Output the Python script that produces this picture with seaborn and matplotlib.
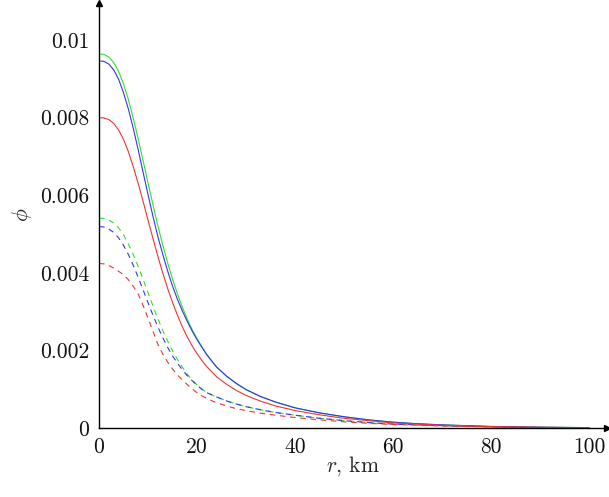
import numpy as np
import pandas as pd
import matplotlib
matplotlib.use("Agg")
import matplotlib.pyplot as plt
import seaborn as sns

# radius, km
r = [0, 1, 2, 3, 4, 5, 6, 7, 8, 9, 10, 11, 12, 13, 14, 15, 16, 17, 18, 19, 20, 21, 22,
     24, 26, 28, 30, 33, 36, 40, 45, 50, 55, 60, 65, 70, 80, 90, 100]

green_solid = [0.00964, 0.00963, 0.00956, 0.00942, 0.00919, 0.00887, 0.00846, 0.00798, 0.00745, 0.00689, 0.00632,
               0.00576, 0.00522, 0.00472, 0.00426, 0.00384, 0.00346, 0.00312, 0.00281, 0.00254, 0.00230, 0.00209, 0.00189,
               0.00157, 0.00134, 0.00115, 0.00099, 0.00081, 0.00067, 0.00052, 0.00039, 0.00029, 0.00021, 0.00015,
               0.00011, 0.00008, 0.00004, 0.00002, 0.00001]
blue_solid = [0.00946, 0.00945, 0.00938, 0.00923, 0.00899, 0.00864, 0.00822, 0.00772, 0.00717, 0.00659, 0.00602,
              0.00546, 0.00494, 0.00448, 0.00405, 0.00366, 0.00332, 0.00302, 0.00275, 0.00250, 0.00228, 0.00208, 0.00189,
              0.00157, 0.00134, 0.00115, 0.00099, 0.00081, 0.00067, 0.00052, 0.00039, 0.00029, 0.00021, 0.00015,
              0.00011, 0.00008, 0.00004, 0.00002, 0.00001]
red_solid = [0.00800, 0.00799, 0.00795, 0.00785, 0.00768, 0.00744, 0.00712, 0.00673, 0.00630, 0.00584, 0.00536,
             0.00489, 0.00443, 0.00400, 0.00360, 0.00324, 0.00291, 0.00261, 0.00235, 0.00212, 0.00192, 0.00174, 0.00158,
             0.00132, 0.00113, 0.00097, 0.00084, 0.00069, 0.00057, 0.00045, 0.00034, 0.00025, 0.00019, 0.00013,
             0.00010, 0.00007, 0.000035, 0.000017, 0.000008]
green_dashed = [0.00541, 0.00540, 0.00536, 0.00528, 0.00516, 0.00498, 0.00474, 0.00447, 0.00416, 0.00383, 0.00349,
                0.00315, 0.00282, 0.00252, 0.00224, 0.00199, 0.00177, 0.00157, 0.00139, 0.00124, 0.00111, 0.00100, 0.00091,
                0.00080, 0.00070, 0.00062, 0.00055, 0.00047, 0.00040, 0.00033, 0.00025, 0.00019, 0.00014, 0.00010,
                0.00008, 0.00006, 0.00003, 0.000015, 0.000008]
blue_dashed = [0.00519, 0.00518, 0.00513, 0.00504, 0.00490, 0.00471, 0.00447, 0.00419, 0.00388, 0.00356, 0.00323,
               0.00291, 0.00261, 0.00233, 0.00208, 0.00186, 0.00167, 0.00150, 0.00135, 0.00122, 0.00110, 0.00100, 0.00091,
               0.00080, 0.00070, 0.00062, 0.00055, 0.00047, 0.00040, 0.00033, 0.00025, 0.00019, 0.00014, 0.00010,
               0.00008, 0.00006, 0.00003, 0.000015, 0.000008]
red_dashed = [0.00424, 0.00423, 0.00419, 0.00412, 0.00404, 0.00395, 0.00382, 0.00365, 0.00345, 0.00316, 0.00283,
              0.00250, 0.00216, 0.00191, 0.00170, 0.00152, 0.00137, 0.00124, 0.00112, 0.00101, 0.00091, 0.00083, 0.00076,
              0.00065, 0.00057, 0.00050, 0.00045, 0.00038, 0.00033, 0.00027, 0.00021, 0.00016, 0.00012, 0.00009,
              0.00007, 0.00005, 0.000025, 0.000012, 0.000006]

xticks = [0, 20, 40, 60, 80, 100]
xtick_labels = ["0", "20", "40", "60", "80", "100"]
yticks = [0, 0.002, 0.004, 0.006, 0.008, 0.01]
ytick_labels = ["0", "0.002", "0.004", "0.006", "0.008", "0.01"]

series = [
    ("green", "solid", green_solid),
    ("blue", "solid", blue_solid),
    ("red", "solid", red_solid),
    ("green", "dashed", green_dashed),
    ("blue", "dashed", blue_dashed),
    ("red", "dashed", red_dashed),
]
rows = []
for col, sty, vals in series:
    for x, y in zip(r, vals):
        rows.append({"r": x, "phi": y, "color": col, "kind": sty, "id": col + sty})
df = pd.DataFrame(rows)

sns.set_style("white")
plt.rcParams["font.family"] = ["cmr10", "DejaVu Serif"]
plt.rcParams["mathtext.fontset"] = "cm"
plt.rcParams["axes.unicode_minus"] = False

fig = plt.figure(figsize=(6.09, 4.97), dpi=100)
ax = fig.add_axes([99 / 609, 69 / 497, (607 - 99) / 609, (428 - 3) / 497])

palette = {"green": "#2ee02e", "blue": "#3434f0", "red": "#f03434"}
sns.lineplot(data=df, x="r", y="phi", hue="color", style="kind", units="id", estimator=None,
             palette=palette, dashes={"solid": "", "dashed": (5.0, 4.2)},
             linewidth=0.8, legend=False, ax=ax, sort=False)

xmax = (607 - 99) / 4.9
ymax = (428 - 3) / 38800.0
ax.set_xlim(0, xmax)
ax.set_ylim(0, ymax)

for s in ["top", "right"]:
    ax.spines[s].set_visible(False)
for s in ["left", "bottom"]:
    ax.spines[s].set_color("black")
    ax.spines[s].set_linewidth(1.0)

ax.set_xticks(xticks)
ax.set_xticklabels(xtick_labels)
ax.set_yticks(yticks)
ax.set_yticklabels(ytick_labels)
ax.tick_params(axis="both", direction="inout", length=8, width=0.7, color="#888888",
               labelsize=15.5, labelcolor="#111111")
ax.tick_params(axis="x", pad=3)
ax.tick_params(axis="y", pad=3)

ax.set_xlabel(r"$r$, km", fontsize=15.5)
ax.xaxis.set_label_coords(0.5, (428 - 466) / 425)
ax.xaxis.label.set_verticalalignment("center")
ax.set_ylabel(r"$\phi$", fontsize=15.5)
ax.yaxis.set_label_coords((22 - 99) / 508, (428 - 215) / 425)
ax.yaxis.label.set_verticalalignment("center")
ax.yaxis.label.set_horizontalalignment("center")

# arrow heads
ax.plot(1, 0, marker=">", color="black", markersize=5, transform=ax.transAxes, clip_on=False)
ax.plot(0, 1, marker="^", color="black", markersize=5, transform=ax.transAxes, clip_on=False)

fig.savefig("out.png", dpi=100)
